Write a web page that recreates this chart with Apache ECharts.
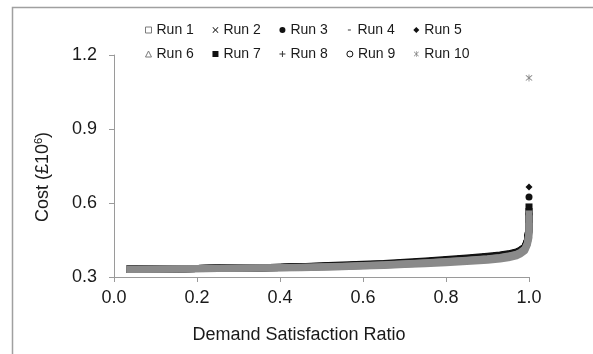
<!DOCTYPE html>
<html>
<head>
<meta charset="utf-8">
<script src="https://cdn.jsdelivr.net/npm/echarts@6/dist/echarts.min.js"></script>
<style>html,body{margin:0;padding:0;background:#fff;}#c{width:593px;height:354px;}</style>
</head>
<body>
<div id="c"></div>
<script>
// Shared x values (demand satisfaction ratio); index 27 is a gap, index 28 holds outliers
const xs = [0.03,0.05,0.1,0.15,0.2,0.25,0.3,0.35,0.4,0.45,0.5,0.55,0.6,0.65,0.7,0.75,0.8,0.85,0.9,0.93,0.95,0.97,0.98,0.99,0.996,1.0,1.0,1.0,1.0];
// Cost (£10^6) per run
const run1  = [0.330,0.3305,0.331,0.332,0.333,0.334,0.335,0.336,0.337,0.338,0.340,0.342,0.345,0.347,0.351,0.354,0.358,0.363,0.368,0.373,0.378,0.386,0.394,0.407,0.430,0.46,0.52,null,null];
const run2  = [0.331,0.331,0.332,0.333,0.334,0.335,0.336,0.338,0.339,0.341,0.343,0.346,0.349,0.352,0.357,0.362,0.368,0.374,0.381,0.386,0.391,0.399,0.407,0.420,0.445,0.49,0.56,null,null];
const run3  = [0.331,0.332,0.332,0.333,0.334,0.335,0.337,0.338,0.340,0.342,0.344,0.346,0.350,0.353,0.357,0.362,0.368,0.374,0.381,0.386,0.392,0.400,0.408,0.421,0.446,0.50,0.58,null,0.624];
const run4  = [0.330,0.331,0.332,0.333,0.334,0.335,0.336,0.337,0.339,0.341,0.343,0.345,0.349,0.352,0.356,0.361,0.367,0.373,0.380,0.385,0.390,0.398,0.406,0.419,0.444,0.49,0.55,null,null];
const run5  = [0.331,0.331,0.332,0.333,0.334,0.336,0.337,0.338,0.340,0.342,0.346,0.349,0.352,0.355,0.360,0.365,0.371,0.377,0.384,0.389,0.394,0.402,0.410,0.423,0.449,0.50,0.57,null,0.665];
const run6  = [0.330,0.331,0.331,0.332,0.333,0.334,0.335,0.336,0.337,0.339,0.341,0.343,0.346,0.349,0.353,0.357,0.362,0.367,0.373,0.378,0.383,0.391,0.399,0.412,0.435,0.48,0.575,null,null];
const run7  = [0.331,0.331,0.332,0.333,0.334,0.335,0.336,0.338,0.339,0.341,0.343,0.346,0.349,0.352,0.356,0.362,0.368,0.374,0.381,0.386,0.391,0.399,0.407,0.420,0.445,0.50,0.55,null,0.584];
const run8  = [0.330,0.331,0.332,0.333,0.334,0.335,0.336,0.337,0.339,0.341,0.343,0.345,0.348,0.352,0.356,0.361,0.367,0.373,0.380,0.385,0.390,0.398,0.406,0.419,0.443,0.49,0.55,null,null];
const run9  = [0.331,0.331,0.332,0.333,0.334,0.335,0.336,0.338,0.339,0.341,0.343,0.346,0.349,0.352,0.357,0.362,0.368,0.374,0.381,0.386,0.391,0.399,0.407,0.420,0.445,0.49,0.56,null,null];
const run10 = [0.331,0.331,0.332,0.333,0.334,0.335,0.336,0.337,0.338,0.340,0.342,0.344,0.347,0.350,0.354,0.358,0.363,0.368,0.374,0.379,0.385,0.393,0.401,0.414,0.437,0.48,0.55,null,1.107];

const xTicks = [0.0,0.2,0.4,0.6,0.8,1.0];
const yTicks = [0.3,0.6,0.9,1.2];
const legendRow1 = ['Run 1','Run 2','Run 3','Run 4','Run 5'];
const legendRow2 = ['Run 6','Run 7','Run 8','Run 9','Run 10'];

const GRAY = '#8a8a8a', BLACK = '#111111';
const P_CROSS = 'path://M0,1 L1,0 L5,4 L9,0 L10,1 L6,5 L10,9 L9,10 L5,6 L1,10 L0,9 L4,5 Z';
const P_PLUS = 'path://M4.2,0 H5.8 V4.2 H10 V5.8 H5.8 V10 H4.2 V5.8 H0 V4.2 H4.2 Z';
const P_DASH = 'path://M0,0 M10,10 M2.5,4.3 H7.5 V5.7 H2.5 Z';
const P_AST = 'path://M0,1 L1,0 L5,4 L9,0 L10,1 L6,5 L10,9 L9,10 L5,6 L1,10 L0,9 L4,5 Z M4.4,-1 H5.6 V11 H4.4 Z';

const runs = {
  'Run 1': {d: run1, c: GRAY, s: 'rect', hollow: true},
  'Run 2': {d: run2, c: BLACK, s: P_CROSS},
  'Run 3': {d: run3, c: BLACK, s: 'circle'},
  'Run 4': {d: run4, c: BLACK, s: P_DASH},
  'Run 5': {d: run5, c: BLACK, s: 'diamond'},
  'Run 6': {d: run6, c: GRAY, s: 'triangle', hollow: true},
  'Run 7': {d: run7, c: BLACK, s: 'rect'},
  'Run 8': {d: run8, c: '#333333', s: P_PLUS},
  'Run 9': {d: run9, c: BLACK, s: 'circle', hollow: true},
  'Run 10': {d: run10, c: GRAY, s: P_AST}
};
const drawOrder = ['Run 2','Run 3','Run 4','Run 5','Run 7','Run 8','Run 9','Run 1','Run 6','Run 10'];
const lastIdx = xs.length - 1;

const series = drawOrder.map(name => {
  const r = runs[name];
  return {
    name: name,
    type: 'line',
    data: xs.map((x, i) => [x, r.d[i]]),
    symbol: r.s,
    showSymbol: true,
    showAllSymbol: true,
    symbolSize: (v, p) => (p.dataIndex === lastIdx ? 7 : 0),
    connectNulls: false,
    lineStyle: {color: r.c, width: 7, cap: 'butt', join: 'round'},
    itemStyle: {color: r.c, borderWidth: 0},
    emphasis: {disabled: true},
    silent: true,
    z: 2
  };
});

function legendItems(names) {
  return names.map(n => {
    const r = runs[n];
    const item = {name: n, icon: r.s};
    if (r.hollow) item.itemStyle = {color: '#ffffff', borderColor: r.c === GRAY ? '#7a7a7a' : BLACK, borderWidth: 1};
    else item.itemStyle = {color: r.c, borderWidth: 0};
    return item;
  });
}
const legendCommon = {
  orient: 'horizontal', left: 145, padding: 0, itemGap: 18.6,
  itemWidth: 6, itemHeight: 6, selectedMode: false,
  textStyle: {fontSize: 14, color: '#1a1a1a', fontFamily: 'Liberation Sans, Arial, sans-serif', padding: [0, 0, 0, 0]},
  itemStyle: {borderWidth: 0}
};

const chart = echarts.init(document.getElementById('c'), null, {renderer: 'canvas'});
chart.setOption({
  animation: false,
  backgroundColor: '#ffffff',
  textStyle: {fontFamily: 'Liberation Sans, Arial, sans-serif'},
  legend: [
    Object.assign({}, legendCommon, {top: 23, data: legendItems(legendRow1)}),
    Object.assign({}, legendCommon, {top: 47, data: legendItems(legendRow2)})
  ],
  grid: {left: 114, right: 64, top: 55, bottom: 77, containLabel: false},
  xAxis: {
    type: 'value', min: xTicks[0], max: xTicks[xTicks.length - 1], interval: 0.2,
    axisLine: {show: true, lineStyle: {color: '#9a9a9a', width: 1}},
    axisTick: {show: true, length: 5, inside: false, lineStyle: {color: '#9a9a9a'}},
    axisLabel: {fontSize: 18, color: '#1a1a1a', margin: 12, formatter: v => Number(v).toFixed(1)},
    splitLine: {show: false}
  },
  yAxis: {
    type: 'value', min: yTicks[0], max: yTicks[yTicks.length - 1], interval: 0.3,
    axisLine: {show: true, lineStyle: {color: '#9a9a9a', width: 1}},
    axisTick: {show: true, length: 5, inside: false, lineStyle: {color: '#9a9a9a'}},
    axisLabel: {fontSize: 18, color: '#1a1a1a', margin: 17, formatter: v => Number(v).toFixed(1)},
    splitLine: {show: false}
  },
  graphic: [
    {type: 'rect', silent: true, shape: {x: 12.5, y: 7.5, width: 800, height: 600},
     style: {fill: null, stroke: '#a0a0a0', lineWidth: 1.5}},
    {type: 'text', silent: true, x: 299, y: 335,
     style: {text: 'Demand Satisfaction Ratio', fontSize: 18, fill: '#1a1a1a',
             fontFamily: 'Liberation Sans, Arial, sans-serif', align: 'center', verticalAlign: 'middle'}},
    {type: 'text', silent: true, x: 43, y: 177, rotation: Math.PI / 2,
     style: {text: 'Cost (£10{sup|6})', fontSize: 18, fill: '#1a1a1a',
             fontFamily: 'Liberation Sans, Arial, sans-serif', align: 'center', verticalAlign: 'middle',
             rich: {sup: {fontSize: 11, verticalAlign: 'top', padding: [0, 0, 8, 0], fill: '#1a1a1a'}}}}
  ],
  series: series
});
</script>
</body>
</html>
